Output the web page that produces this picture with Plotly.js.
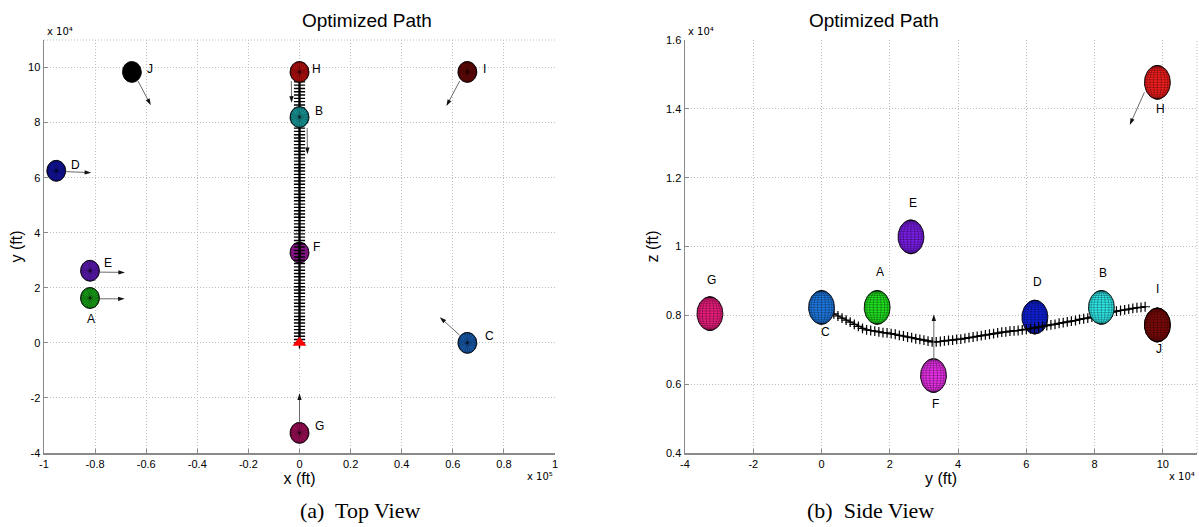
<!DOCTYPE html>
<html>
<head>
<meta charset="utf-8">
<script src="https://cdn.plot.ly/plotly-3.0.1.min.js"></script>
<style>html,body{margin:0;padding:0;background:#fff;}#chart{width:1199px;height:527px;}</style>
</head>
<body>
<div id="chart"></div>
<script>
// ---------------- DATA ----------------
const names = ['A','B','C','D','E','F','G','H','I','J'];
// obstacle centres: x in units of 1e5 ft, y and z in units of 1e4 ft
const posX = [-0.82, 0, 0.657, -0.952, -0.82, 0, 0, 0, 0.657, -0.656];
const posY = [1.63, 8.2, 0, 6.25, 2.62, 3.28, -3.27, 9.84, 9.84, 9.84];
const posZ = [0.823, 0.823, 0.823, 0.795, 1.028, 0.625, 0.805, 1.477, 0.772, 0.772];

// velocity arrows (tail -> tip), top view (x 1e5 ft, y 1e4 ft)
const topArrowNames = ['A','B','C','D','E','G','H','I','J'];
const topArrowX0 = [-0.782, 0.03, 0.627, -0.913, -0.782, 0, -0.032, 0.627, -0.632];
const topArrowY0 = [1.6, 7.8, 0.28, 6.22, 2.57, -2.89, 9.51, 9.51, 9.51];
const topArrowX1 = [-0.684, 0.031, 0.549, -0.815, -0.683, 0, -0.031, 0.575, -0.582];
const topArrowY1 = [1.6, 6.85, 0.93, 6.18, 2.56, -1.83, 8.72, 8.6, 8.63];
// side view arrows (y 1e4 ft, z 1e4 ft)
const sideArrowNames = ['F','H'];
const sideArrowY0 = [3.29, 9.46];
const sideArrowZ0 = [0.67, 1.448];
const sideArrowY1 = [3.29, 9.03];
const sideArrowZ1 = [0.803, 1.353];

// optimized path (y in 1e4 ft, z in 1e4 ft, x = 0)
const pathY = [0,0.12,0.24,0.36,0.48,0.60,0.72,0.84,0.96,1.08,1.20,1.32,1.44,1.56,1.68,1.80,1.92,2.04,2.16,2.28,
  2.40,2.52,2.64,2.76,2.88,3.00,3.12,3.24,3.36,3.48,3.60,3.72,3.84,3.96,4.08,4.20,4.32,4.44,4.56,4.68,
  4.80,4.92,5.04,5.16,5.28,5.40,5.52,5.64,5.76,5.88,6.00,6.12,6.24,6.36,6.48,6.60,6.72,6.84,6.96,7.08,
  7.20,7.32,7.44,7.56,7.68,7.80,7.92,8.04,8.16,8.28,8.40,8.52,8.64,8.76,8.88,9.00,9.12,9.24,9.36,9.48];
const pathX = [0,0,0,0,0,0,0,0,0,0,0,0,0,0,0,0,0,0,0,0,0,0,0,0,0,0,0,0,0,0,0,0,0,0,0,0,0,0,0,0,
  0,0,0,0,0,0,0,0,0,0,0,0,0,0,0,0,0,0,0,0,0,0,0,0,0,0,0,0,0,0,0,0,0,0,0,0,0,0,0,0];
const pathZ = [0.822,0.816,0.810,0.804,0.798,0.792,0.786,0.780,0.774,0.768,0.762,0.758,0.756,0.754,0.752,0.750,0.749,0.747,0.745,0.742,
  0.740,0.737,0.735,0.732,0.730,0.728,0.725,0.723,0.723,0.724,0.726,0.727,0.728,0.730,0.731,0.733,0.735,0.737,0.739,0.741,
  0.743,0.745,0.747,0.749,0.751,0.752,0.754,0.755,0.756,0.758,0.759,0.761,0.763,0.766,0.768,0.770,0.772,0.774,0.777,0.779,
  0.781,0.783,0.785,0.788,0.790,0.792,0.795,0.798,0.801,0.804,0.807,0.810,0.812,0.814,0.816,0.818,0.820,0.822,0.823,0.825];

// tick labels
const xTopTicks = [-1,-0.8,-0.6,-0.4,-0.2,0,0.2,0.4,0.6,0.8,1];
const xTopLabels = ['-1','-0.8','-0.6','-0.4','-0.2','0','0.2','0.4','0.6','0.8','1'];
const yTopTicks = [-4,-2,0,2,4,6,8,10];
const yTopLabels = ['-4','-2','0','2','4','6','8','10'];
const xSideTicks = [-4,-2,0,2,4,6,8,10];
const xSideLabels = ['-4','-2','0','2','4','6','8','10'];
const ySideTicks = [0.4,0.6,0.8,1,1.2,1.4,1.6];
const ySideLabels = ['0.4','0.6','0.8','1','1.2','1.4','1.6'];

// ---------------- STYLE ----------------
const topColors = {A:'#1fc41f',B:'#1fb8b8',C:'#1f6fd0',D:'#1818c0',E:'#7020d8',F:'#c51fc5',G:'#c0126a',H:'#d81414',I:'#7a0c0c',J:'#000000'};
const sideColors = {A:'#20e020',B:'#30e8e8',C:'#1f78e0',D:'#1020d8',E:'#7a1ee8',F:'#e830e8',G:'#ee1e80',H:'#f21e1e',I:'#7c0a0a',J:'#7c0a0a'};
const R_TOP_X = 0.037, R_TOP_Y = 0.38;   // sphere radius in top-view units
const R_SIDE_Y = 0.38, R_SIDE_Z = 0.049; // sphere radius in side-view units
// label pixel offsets
const topLabelShift = {A:[1,-21],B:[19,6],C:[22,7],D:[19,6],E:[18,8],F:[17,6],G:[20,7],H:[17,3],I:[17,3],J:[18,3]};
const sideLabelShift = {A:[3,35],B:[2,34],C:[4,-25],D:[3,35],E:[2,34],F:[2,-28],G:[2,34],H:[3,-27],I:[0,36],J:[2,-24]};
// draw order: obstacles drawn before (behind) the path in each view
const topBehind = ['F'];
const sideBehind = ['D'];

const traces = [];
function ellipse(cx, cy, rx, ry, color, xa, ya, meshType, solid) {
  const ox = [], oy = [];
  for (let i = 0; i <= 72; i++) { const t = i / 72 * 2 * Math.PI; ox.push(cx + rx * Math.cos(t)); oy.push(cy + ry * Math.sin(t)); }
  traces.push({type:'scatter', mode:'lines', x:ox, y:oy, xaxis:xa, yaxis:ya, fill:'toself', fillcolor:color,
    line:{color:'rgba(0,0,0,0.85)', width:1}, hoverinfo:'skip'});
  if (solid) return;
  const mx = [], my = [];
  if (meshType === 'grid') {
    for (let k = 1; k < 20; k++) { const th = k * Math.PI / 20; const s = Math.sin(th);
      mx.push(cx - rx * s, cx + rx * s, null); my.push(cy + ry * Math.cos(th), cy + ry * Math.cos(th), null); }
    for (let k = 1; k < 10; k++) { const ph = k * Math.PI / 10;
      for (let j = 0; j <= 24; j++) { const th = j / 24 * Math.PI; mx.push(cx + rx * Math.cos(ph) * Math.sin(th)); my.push(cy + ry * Math.cos(th)); }
      mx.push(null); my.push(null); }
  } else {
    for (let k = 0; k < 20; k++) { const ph = k * Math.PI / 10;
      mx.push(cx, cx + rx * Math.cos(ph), null); my.push(cy, cy + ry * Math.sin(ph), null); }
    for (let k = 1; k < 10; k++) { const s = Math.sin(k * Math.PI / 20);
      for (let j = 0; j <= 36; j++) { const t = j / 36 * 2 * Math.PI; mx.push(cx + rx * s * Math.cos(t)); my.push(cy + ry * s * Math.sin(t)); }
      mx.push(null); my.push(null); }
  }
  traces.push({type:'scatter', mode:'lines', x:mx, y:my, xaxis:xa, yaxis:ya, line:{color:'rgba(0,0,0,0.55)', width:0.5}, hoverinfo:'skip'});
}
function topObstacle(i) { const n = names[i]; ellipse(posX[i], posY[i], R_TOP_X, R_TOP_Y, topColors[n], 'x', 'y', 'radial', n === 'J'); }
function sideObstacle(i) { const n = names[i]; ellipse(posY[i], posZ[i], R_SIDE_Y, R_SIDE_Z, sideColors[n], 'x2', 'y2', 'grid', false); }
function arrow(x0, y0, x1, y1, xa, ya) {
  traces.push({type:'scatter', mode:'lines+markers', x:[x0, x1], y:[y0, y1], xaxis:xa, yaxis:ya,
    line:{color:'#6a6a6a', width:1},
    marker:{symbol:['circle','arrow'], size:[0, 7], opacity:[0, 1], color:'#111', angleref:'previous', line:{width:0}},
    hoverinfo:'skip'});
}

const topPathLine = {color:'#000', width:1.6};
const topMarker = {symbol:'cross-thin', size:8, line:{color:'#000', width:1.4}};
const sidePathLine = {color:'#000', width:1.3};
const sideMarker = {symbol:'cross-thin', size:7, line:{color:'#000', width:1.2}};

// top view
names.forEach((n, i) => { if (topBehind.includes(n)) topObstacle(i); });
traces.push({type:'scatter', mode:'lines+markers', x:pathX, y:pathY, xaxis:'x', yaxis:'y', line:topPathLine, marker:topMarker, hoverinfo:'skip'});
traces.push({type:'scatter', mode:'markers', x:[pathX[0]], y:[pathY[0]], xaxis:'x', yaxis:'y', marker:{symbol:'triangle-up', size:12, color:'#ff0000'}, hoverinfo:'skip'});
names.forEach((n, i) => { if (!topBehind.includes(n)) topObstacle(i); });
topArrowNames.forEach((n, i) => arrow(topArrowX0[i], topArrowY0[i], topArrowX1[i], topArrowY1[i], 'x', 'y'));
// side view (J first so I covers it)
const sideOrder = [9,0,1,2,3,4,5,6,7,8];
sideOrder.forEach(i => { if (sideBehind.includes(names[i])) sideObstacle(i); });
traces.push({type:'scatter', mode:'lines+markers', x:pathY, y:pathZ, xaxis:'x2', yaxis:'y2', line:sidePathLine, marker:sideMarker, hoverinfo:'skip'});
sideOrder.forEach(i => { if (!sideBehind.includes(names[i])) sideObstacle(i); });
sideArrowNames.forEach((n, i) => arrow(sideArrowY0[i], sideArrowZ0[i], sideArrowY1[i], sideArrowZ1[i], 'x2', 'y2'));

const annotations = [];
const labelFont = {family:'Liberation Sans, Arial, sans-serif', size:12, color:'#000'};
names.forEach((n, i) => {
  annotations.push({x:posX[i], y:posY[i], xref:'x', yref:'y', text:n, showarrow:false, xshift:topLabelShift[n][0], yshift:topLabelShift[n][1], font:labelFont});
  annotations.push({x:posY[i], y:posZ[i], xref:'x2', yref:'y2', text:n, showarrow:false, xshift:sideLabelShift[n][0], yshift:sideLabelShift[n][1], font:labelFont});
});

const W = 1199, H = 527;
const L1 = 44, R1 = 555, L2 = 685, R2 = 1197, T = 40, B = 453;
const titleFont = {family:'Liberation Sans, Arial, sans-serif', size:19, color:'#000'};
const capFont = {family:'Liberation Serif, Times New Roman, serif', size:22, color:'#000'};
const expFont = {family:'DejaVu Sans, Liberation Sans, sans-serif', size:10, color:'#000'};
annotations.push({xref:'paper', yref:'paper', x:(L1+R1)/2/W, y:1-20/H, text:'Optimized Path', showarrow:false, font:titleFont, yanchor:'middle'});
annotations.push({xref:'paper', yref:'paper', x:(L2+R2)/2/W, y:1-20/H, text:'Optimized Path', showarrow:false, font:titleFont, yanchor:'middle'});
annotations.push({xref:'paper', yref:'paper', x:298/W, y:1-510/H, text:'(a)  Top View', showarrow:false, font:capFont, yanchor:'middle'});
annotations.push({xref:'paper', yref:'paper', x:936/W, y:1-510/H, text:'(b)  Side View', showarrow:false, font:capFont, yanchor:'middle'});
annotations.push({xref:'paper', yref:'paper', x:(L1+1)/W, y:1-32/H, text:'x 10\u2074', showarrow:false, font:expFont, xanchor:'left', yanchor:'middle'});
annotations.push({xref:'paper', yref:'paper', x:(L2+1)/W, y:1-32/H, text:'x 10\u2074', showarrow:false, font:expFont, xanchor:'left', yanchor:'middle'});
annotations.push({xref:'paper', yref:'paper', x:R1/W, y:1-476/H, text:'x 10\u2075', showarrow:false, font:expFont, xanchor:'right', yanchor:'middle'});
annotations.push({xref:'paper', yref:'paper', x:R2/W, y:1-476/H, text:'x 10\u2074', showarrow:false, font:expFont, xanchor:'right', yanchor:'middle'});

const gridDash = '1px,2px';
const axisBase = {showgrid:true, gridcolor:'#bdbdbd', griddash:gridDash, gridwidth:1, zeroline:false, showline:true,
  linecolor:'#8a8a8a', linewidth:1.5, ticks:'inside', ticklen:4, tickcolor:'#8a8a8a',
  tickfont:{family:'Liberation Sans, Arial, sans-serif', size:11, color:'#000'}, fixedrange:true};
const axTitleFont = {family:'Liberation Sans, Arial, sans-serif', size:16, color:'#000'};

const layout = {
  width:W, height:H, margin:{l:0, r:0, t:0, b:0}, paper_bgcolor:'#fff', plot_bgcolor:'#fff', showlegend:false,
  xaxis:Object.assign({}, axisBase, {domain:[L1/W, R1/W], range:[-1,1], tickvals:xTopTicks, ticktext:xTopLabels, anchor:'y',
    title:{text:'x (ft)', font:axTitleFont, standoff:0}}),
  yaxis:Object.assign({}, axisBase, {domain:[1-B/H, 1-T/H], range:[-4,11], tickvals:yTopTicks, ticktext:yTopLabels, anchor:'x',
    title:{text:'y (ft)', font:axTitleFont, standoff:1}}),
  xaxis2:Object.assign({}, axisBase, {domain:[L2/W, R2/W], range:[-4,11], tickvals:xSideTicks, ticktext:xSideLabels, anchor:'y2',
    title:{text:'y (ft)', font:axTitleFont, standoff:0}}),
  yaxis2:Object.assign({}, axisBase, {domain:[1-B/H, 1-T/H], range:[0.4,1.6], tickvals:ySideTicks, ticktext:ySideLabels, anchor:'x2',
    title:{text:'z (ft)', font:axTitleFont, standoff:3}}),
  shapes:[
    {type:'line', xref:'x domain', yref:'y domain', x0:0, x1:1, y0:1, y1:1, line:{color:'#bdbdbd', width:1, dash:gridDash}, layer:'below'},
    {type:'line', xref:'x2 domain', yref:'y2 domain', x0:1, x1:1, y0:0, y1:1, line:{color:'#bdbdbd', width:1, dash:gridDash}, layer:'below'}
  ],
  annotations:annotations
};
Plotly.newPlot('chart', traces, layout, {staticPlot:true, displayModeBar:false});
</script>
</body>
</html>
